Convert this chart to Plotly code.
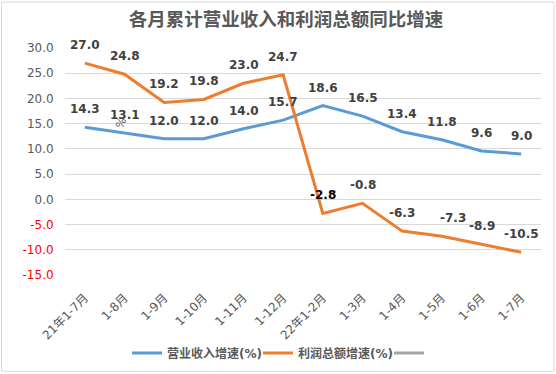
import plotly.graph_objects as go

categories = ["21年1-7月", "1-8月", "1-9月", "1-10月", "1-11月", "1-12月",
              "22年1-2月", "1-3月", "1-4月", "1-5月", "1-6月", "1-7月"]
revenue_growth = [14.3, 13.1, 12.0, 12.0, 14.0, 15.7, 18.6, 16.5, 13.4, 11.8, 9.6, 9.0]
profit_growth = [27.0, 24.8, 19.2, 19.8, 23.0, 24.7, -2.8, -0.8, -6.3, -7.3, -8.9, -10.5]
y_ticks = [30, 25, 20, 15, 10, 5, 0, -5, -10, -15]

series_names = ["营业收入增速(%)", "利润总额增速(%)", ""]

W, H = 556, 374
PL, PR, PT, PB = 65, 541, 47.5, 275  # plot area pixel box
FONT = "DejaVu Sans, Noto Sans CJK SC, sans-serif"
BLUE, ORANGE, GREY = "#5B9BD5", "#ED7D31", "#A5A5A5"
TXT = "#595959"
LBL = "#404040"

xs = list(range(len(categories)))

fig = go.Figure()
fig.add_trace(go.Scatter(x=xs, y=revenue_growth, mode="lines", name=f"<b>{series_names[0]}</b>",
                         line=dict(color=BLUE, width=3)))
fig.add_trace(go.Scatter(x=xs, y=profit_growth, mode="lines", name=f"<b>{series_names[1]}</b>",
                         line=dict(color=ORANGE, width=3)))
fig.add_trace(go.Scatter(x=[None], y=[None], mode="lines", name=series_names[2],
                         line=dict(color=GREY, width=3), showlegend=True))

ann = []
for i, v in enumerate(revenue_growth):
    ann.append(dict(x=i, y=v, text=f"<b>{v:.1f}</b>", showarrow=False, yshift=18,
                    yanchor="middle", xanchor="center",
                    font=dict(family=FONT, size=12, color=LBL)))
for i, v in enumerate(profit_growth):
    xshift = 11 if i == 9 else 0
    col = "#000000" if i == 6 else LBL
    ann.append(dict(x=i, y=v, text=f"<b>{v:.1f}</b>", showarrow=False, yshift=18,
                    xshift=xshift, yanchor="middle", xanchor="center",
                    font=dict(family=FONT, size=12, color=col)))
# stray rotated percent sign seen in the source
ann.append(dict(x=0.91, y=15.1, text="%", showarrow=False, textangle=-65,
                font=dict(family=FONT, size=11, color=TXT)))

def fmt_tick(v):
    s = f"{v:.1f}"
    if v < 0:
        return f"<span style='color:#FF0000'>{s}</span>"
    return s

pw, ph = PR - PL, PB - PT
def px2x(p):
    return (p - PL) / pw
def px2y(p):
    return (PB - p) / ph

shapes = [dict(type="rect", xref="paper", yref="paper",
               x0=px2x(1.5), x1=px2x(554), y0=px2y(371.5), y1=px2y(1.5),
               line=dict(color="#D9D9D9", width=1), fillcolor="rgba(0,0,0,0)", layer="below")]

fig.update_layout(
    width=W, height=H,
    margin=dict(l=PL, r=W - PR, t=PT, b=H - PB, pad=0, autoexpand=False),
    paper_bgcolor="white", plot_bgcolor="white",
    title=dict(text="<b>各月累计营业收入和利润总额同比增速</b>", x=286 / W, xref="container",
               xanchor="center", y=1 - 20 / H, yref="container", yanchor="middle",
               font=dict(family="Noto Sans CJK SC, sans-serif", size=18.5, color=TXT)),
    xaxis=dict(range=[-0.5, len(categories) - 0.5], tickmode="array", tickvals=xs,
               ticktext=categories, tickangle=-45, showgrid=False, zeroline=False,
               showline=False, ticks="outside", ticklen=10, tickcolor="rgba(0,0,0,0)",
               automargin=False,
               tickfont=dict(family=FONT, size=12, color=TXT)),
    yaxis=dict(range=[-15, 30], tickmode="array", tickvals=y_ticks,
               ticktext=[fmt_tick(v) for v in y_ticks], showgrid=True,
               gridcolor="#D9D9D9", gridwidth=1, zeroline=False, showline=False,
               ticks="outside", ticklen=8, tickcolor="rgba(0,0,0,0)", automargin=False,
               tickfont=dict(family=FONT, size=12, color=TXT)),
    legend=dict(orientation="h", x=127 / W, xref="container", xanchor="left",
                y=1 - 353 / H, yref="container", yanchor="middle",
                font=dict(family=FONT, size=12, color=TXT), itemwidth=30,
                entrywidth=86, entrywidthmode="pixels",
                bgcolor="rgba(0,0,0,0)", tracegroupgap=0),
    annotations=ann,
    shapes=shapes,
    showlegend=True,
)

fig.write_html("out.html", config={"displayModeBar": False},
               post_script="document.body.style.margin='0';document.body.style.padding='0';")
